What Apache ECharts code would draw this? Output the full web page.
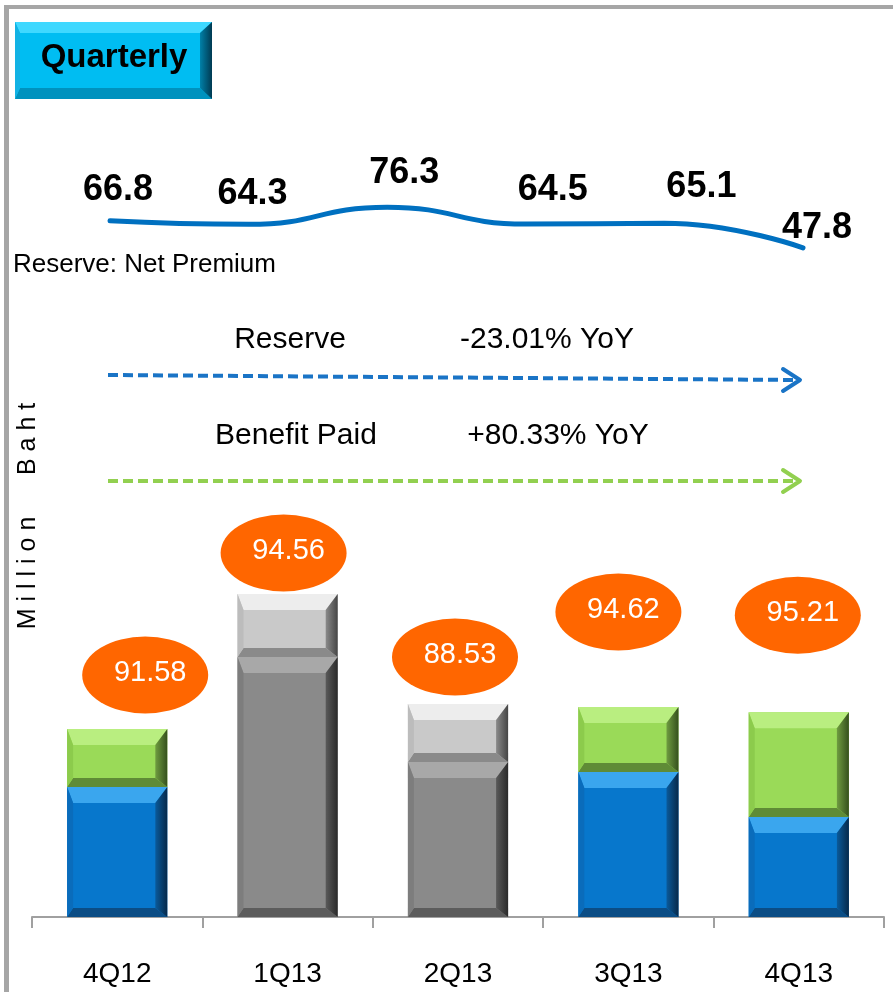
<!DOCTYPE html>
<html>
<head>
<meta charset="utf-8">
<script src="https://cdn.jsdelivr.net/npm/echarts@6/dist/echarts.min.js"></script>
<style>
  html, body { margin: 0; padding: 0; background: #fff; }
  #chart { width: 893px; height: 992px; }
</style>
</head>
<body>
<div id="chart"></div>
<script>
// Quarterly reserve / benefit paid (million Baht)
const quarters = ['4Q12', '1Q13', '2Q13', '3Q13', '4Q13'];
const reserve = [130.0, 260.0, 155.0, 145.0, 100.1];
const benefitPaid = [58.0, 63.0, 58.0, 65.0, 104.6];
// figures shown in the orange callouts
const calloutRatio = [91.58, 94.56, 88.53, 94.62, 95.21];
// Reserve : Net Premium trend
const reserveToPremium = [66.8, 64.3, 76.3, 64.5, 65.1, 47.8];

const FONT = '"Liberation Sans", Arial, sans-serif';

// ---- styling ----
const toneByQuarter = ['color', 'gray', 'gray', 'color', 'color'];
const palettes = {
  color: {
    lower: { face: '#0777cc', top: '#3aa6ee', left: '#0a6cbb', rightIn: '#0a5a9a', rightOut: '#07294a', bottom: '#0b4d85' },
    upper: { face: '#9ada58', top: '#b9ee80', left: '#8ccb4c', rightIn: '#6f9c40', rightOut: '#35501d', bottom: '#5f8b36' }
  },
  gray: {
    lower: { face: '#8a8a8a', top: '#a8a8a8', left: '#7d7d7d', rightIn: '#5a5a5a', rightOut: '#2a2a2a', bottom: '#5c5c5c' },
    upper: { face: '#c9c9c9', top: '#ededed', left: '#bcbcbc', rightIn: '#8a8a8a', rightOut: '#454545', bottom: '#8a8a8a' }
  }
};
// callout placement relative to the top of each stack (px)
const calloutShift = [[28, -54], [-4, -41], [-3, -47], [-10, -95], [-1, -97]];
// line label nudges (px)
const lineLabelNudge = [[8, -31], [4, -30], [17, -34], [27, -34], [37, -36], [14, -20]];

function bevelShapes(x0, yb, x1, yt, pal, sz) {
  const h = yb - yt;
  const bt = Math.min(sz.t, h * 0.35), bb = Math.min(sz.b, h * 0.2);
  const bl = sz.l, br = sz.r;
  return [
    { type: 'rect', shape: { x: x0, y: yt, width: x1 - x0, height: h }, style: { fill: pal.face } },
    { type: 'polygon', shape: { points: [[x0, yt], [x1, yt], [x1 - br, yt + bt], [x0 + bl, yt + bt]] }, style: { fill: pal.top } },
    { type: 'polygon', shape: { points: [[x0, yb], [x1, yb], [x1 - br, yb - bb], [x0 + bl, yb - bb]] }, style: { fill: pal.bottom } },
    { type: 'polygon', shape: { points: [[x0, yt], [x0 + bl, yt + bt], [x0 + bl, yb - bb], [x0, yb]] }, style: { fill: pal.left } },
    { type: 'polygon', shape: { points: [[x1, yt], [x1 - br, yt + bt], [x1 - br, yb - bb], [x1, yb]] },
      style: { fill: new echarts.graphic.LinearGradient(0, 0, 1, 0, [{ offset: 0, color: pal.rightIn }, { offset: 1, color: pal.rightOut }]) } }
  ];
}

function barRenderer(layer) {
  return function (params, api) {
    const i = api.value(0);
    const lo = api.coord([i, api.value(1)]);
    const hi = api.coord([i, api.value(2)]);
    const half = api.size([1, 0])[0] * 0.294;
    const pal = palettes[toneByQuarter[i]][layer];
    return {
      type: 'group',
      children: bevelShapes(lo[0] - half, lo[1], lo[0] + half, hi[1], pal, { t: 16, b: 9, l: 6, r: 12 })
    };
  };
}

const quarterlyBadge = {
  type: 'group',
  children: bevelShapes(15, 99, 212, 22,
    { face: '#00bdf2', top: '#3fd8ff', left: '#12b2e4', rightIn: '#0080a8', rightOut: '#003a52', bottom: '#0092be' },
    { t: 11, b: 11, l: 5, r: 12 }).concat([
    { type: 'text', style: { text: 'Quarterly', x: 114, y: 58, align: 'center', verticalAlign: 'middle',
      font: 'bold 33px ' + FONT, fill: '#000' } }
  ])
};

function dashedArrow(y0, y1, color) {
  return [
    { type: 'line', shape: { x1: 108, y1: y0, x2: 796, y2: y1 },
      style: { stroke: color, lineWidth: 4, lineDash: [10, 5] } },
    { type: 'polyline', shape: { points: [[783, y1 - 11], [800, y1], [783, y1 + 11]] },
      style: { stroke: color, lineWidth: 4, fill: null, lineCap: 'round', lineJoin: 'round' } }
  ];
}

const chart = echarts.init(document.getElementById('chart'));

chart.setOption({
  backgroundColor: '#fff',
  animation: false,
  grid: [
    { left: 32, right: 9, top: 517, bottom: 75 },
    { left: 110, width: 693, top: 202, height: 57 }
  ],
  xAxis: [
    {
      type: 'category', gridIndex: 0, data: quarters, boundaryGap: true,
      axisLine: { lineStyle: { color: '#a0a0a0', width: 2 } },
      axisTick: { show: true, length: 11, lineStyle: { color: '#a0a0a0', width: 2 } },
      axisLabel: { color: '#000', fontSize: 28, fontFamily: FONT, margin: 43 }
    },
    { type: 'value', gridIndex: 1, min: 0, max: 5, show: false }
  ],
  yAxis: [
    { type: 'value', gridIndex: 0, min: 0, max: 400, show: false, splitLine: { show: false } },
    { type: 'value', gridIndex: 1, min: 40, max: 80, show: false, splitLine: { show: false } }
  ],
  series: [
    {
      name: 'Reserve', type: 'custom', xAxisIndex: 0, yAxisIndex: 0,
      renderItem: barRenderer('lower'),
      encode: { x: 0, y: [1, 2] },
      data: quarters.map((q, i) => [i, 0, reserve[i]])
    },
    {
      name: 'Benefit Paid', type: 'custom', xAxisIndex: 0, yAxisIndex: 0,
      renderItem: barRenderer('upper'),
      encode: { x: 0, y: [1, 2] },
      data: quarters.map((q, i) => [i, reserve[i], reserve[i] + benefitPaid[i]])
    },
    {
      name: 'Ratio', type: 'scatter', xAxisIndex: 0, yAxisIndex: 0, z: 5,
      symbol: 'circle', symbolSize: [126, 77],
      itemStyle: { color: '#ff6600', opacity: 1 },
      label: {
        show: true, position: 'inside', color: '#fff', fontSize: 29, fontFamily: FONT,
        offset: [5, -2],
        formatter: p => calloutRatio[p.dataIndex].toFixed(2)
      },
      data: quarters.map((q, i) => ({
        value: [i, reserve[i] + benefitPaid[i]],
        symbolOffset: calloutShift[i]
      }))
    },
    {
      name: 'Reserve: Net Premium', type: 'line', xAxisIndex: 1, yAxisIndex: 1,
      smooth: 0.5, symbol: 'circle', symbolSize: 1, showSymbol: true,
      itemStyle: { color: '#0070c0' },
      lineStyle: { color: '#0070c0', width: 5, cap: 'round' },
      label: {
        show: true, position: 'inside', color: '#000', fontSize: 36, fontWeight: 'bold', fontFamily: FONT,
        formatter: p => p.value[1].toFixed(1)
      },
      data: reserveToPremium.map((v, i) => ({
        value: [i, v],
        label: { offset: lineLabelNudge[i] }
      }))
    }
  ],
  graphic: [
    // frame
    { type: 'rect', shape: { x: 4, y: 5, width: 900, height: 4 }, style: { fill: '#a6a6a6' }, silent: true },
    { type: 'rect', shape: { x: 4, y: 5, width: 5, height: 990 }, style: { fill: '#a6a6a6' }, silent: true },
    quarterlyBadge,
    { type: 'text', style: { text: 'Reserve: Net Premium', x: 13, y: 265, verticalAlign: 'middle',
      font: '26px ' + FONT, fill: '#000' } },
    { type: 'text', style: { text: 'Reserve', x: 290, y: 340, align: 'center', verticalAlign: 'middle',
      font: '30px ' + FONT, fill: '#000' } },
    { type: 'text', style: { text: '-23.01% YoY', x: 547, y: 340, align: 'center', verticalAlign: 'middle',
      font: '30px ' + FONT, fill: '#000' } },
    { type: 'text', style: { text: 'Benefit Paid', x: 296, y: 436, align: 'center', verticalAlign: 'middle',
      font: '30px ' + FONT, fill: '#000' } },
    { type: 'text', style: { text: '+80.33% YoY', x: 558, y: 436, align: 'center', verticalAlign: 'middle',
      font: '30px ' + FONT, fill: '#000' } },
    { type: 'group', children: dashedArrow(375, 380, '#1a74c6') },
    { type: 'group', children: dashedArrow(481, 481, '#92d050') },
    { type: 'text', rotation: Math.PI / 2, x: 28, y: 516,
      style: { text: 'M i l l i o n      B a h t', x: 0, y: 0, align: 'center', verticalAlign: 'middle',
        font: '25px ' + FONT, fill: '#000' } }
  ]
});
</script>
</body>
</html>
